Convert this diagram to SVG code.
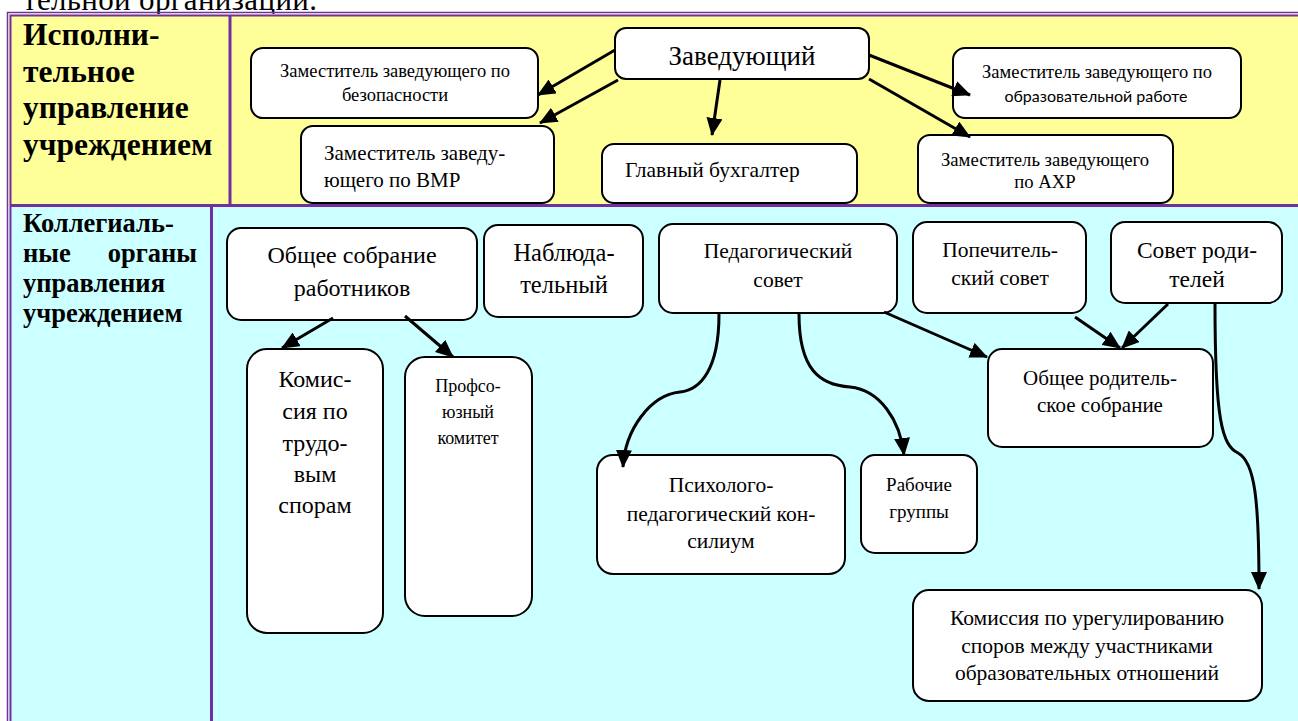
<svg xmlns="http://www.w3.org/2000/svg" width="1298" height="721" viewBox="0 0 1298 721">
<style>
.t{font-family:"Liberation Serif","Times New Roman",serif;fill:#000}
.s{font-family:Lato,"Liberation Sans",sans-serif;fill:#000}
.h{font-family:"Liberation Serif","Times New Roman",serif;font-weight:bold;fill:#000}
.c{text-anchor:middle}
.box{fill:#fff;stroke:#000;stroke-width:2}
.fr{stroke:#7030A0;fill:none}
.ln{fill:none;stroke:#000;stroke-width:3;marker-end:url(#ah)}
</style>
<defs>
<marker id="ah" viewBox="0 0 18 16" refX="17" refY="8" markerWidth="18" markerHeight="16" markerUnits="userSpaceOnUse" orient="auto"><path d="M0,0 L18,8 L0,16 z" fill="#000"/></marker>
</defs>
<rect width="1298" height="721" fill="#fff"/>
<text class="t" x="23" y="10" font-size="31" textLength="294">тельной организации.</text>
<g id="frame">
<rect x="9" y="14" width="1289" height="192" fill="#FFFF99"/>
<rect x="9" y="206" width="1289" height="515" fill="#CCFFFF"/>
<path class="fr" stroke-width="1.5" d="M1298,12.5 H7.5 V721"/>
<path class="fr" stroke-width="2" d="M1298,15.5 H10.5 V721"/>
<path class="fr" stroke-width="3" d="M230,15 V205"/>
<path class="fr" stroke-width="3" d="M10,205.5 H1298"/>
<path class="fr" stroke-width="3" d="M211.5,207 V721"/>
</g>
<g id="header1">
<text class="h" font-size="31.5" x="23" y="45">Исполни-</text>
<text class="h" font-size="31.5" x="23" y="82">тельное</text>
<text class="h" font-size="31.5" x="23" y="118">управление</text>
<text class="h" font-size="31.5" x="23" y="155">учреждением</text>
</g>
<g id="header2">
<text class="h" font-size="26.5" x="23" y="232">Коллегиаль-</text>
<text class="h" font-size="26.5" x="23" y="262">ные</text>
<text class="h" font-size="26.5" x="197" y="262" text-anchor="end">органы</text>
<text class="h" font-size="26.5" x="23" y="292">управления</text>
<text class="h" font-size="26.5" x="23" y="322">учреждением</text>
</g>
<g id="n-zav">
<rect class="box" x="615" y="28" width="254" height="51" rx="11"/>
<text class="t c" font-size="27" x="742" y="65">Заведующий</text>
</g>
<g id="n-bez">
<rect class="box" x="251" y="48" width="287" height="70" rx="12"/>
<text class="t c" font-size="18.5" x="395" y="77">Заместитель заведующего по</text>
<text class="t c" font-size="18.5" x="395" y="101">безопасности</text>
</g>
<g id="n-vmr">
<rect class="box" x="301" y="126" width="253" height="77" rx="12"/>
<text class="t" font-size="21" x="324" y="160">Заместитель заведу-</text>
<text class="t" font-size="21" x="324" y="187">ющего по ВМР</text>
</g>
<g id="n-buh">
<rect class="box" x="602" y="144" width="255" height="59" rx="12"/>
<text class="t" font-size="21.5" x="625" y="177">Главный бухгалтер</text>
</g>
<g id="n-obr">
<rect class="box" x="953" y="48" width="288" height="70" rx="12"/>
<text class="t c" font-size="18.5" x="1097" y="78">Заместитель заведующего по</text>
<text class="s c" font-size="16" x="1096" y="102">образовательной работе</text>
</g>
<g id="n-ahr">
<rect class="box" x="918" y="135" width="255" height="68" rx="12"/>
<text class="t c" font-size="18.7" x="1045" y="166">Заместитель заведующего</text>
<text class="t c" font-size="18.7" x="1045" y="188">по АХР</text>
</g>
<g id="n-sobr">
<rect class="box" x="227" y="228" width="250" height="92" rx="14"/>
<text class="t c" font-size="24" x="352" y="263">Общее собрание</text>
<text class="t c" font-size="24" x="352" y="296">работников</text>
</g>
<g id="n-nabl">
<rect class="box" x="484" y="225" width="159" height="92" rx="14"/>
<text class="t c" font-size="24.5" x="564" y="261">Наблюда-</text>
<text class="t c" font-size="24.5" x="564" y="293">тельный</text>
</g>
<g id="n-ped">
<rect class="box" x="659" y="224" width="238" height="89" rx="14"/>
<text class="t c" font-size="21.5" x="778" y="258">Педагогический</text>
<text class="t c" font-size="21.5" x="778" y="287">совет</text>
</g>
<g id="n-pop">
<rect class="box" x="913" y="222" width="173" height="91" rx="14"/>
<text class="t c" font-size="21.5" x="1000" y="257">Попечитель-</text>
<text class="t c" font-size="21.5" x="1000" y="285">ский совет</text>
</g>
<g id="n-sovrod">
<rect class="box" x="1111" y="222" width="171" height="81" rx="14"/>
<text class="t c" font-size="23.5" x="1197" y="258">Совет роди-</text>
<text class="t c" font-size="23.5" x="1197" y="287">телей</text>
</g>
<g id="n-obrod">
<rect class="box" x="988" y="349" width="225" height="98" rx="14"/>
<text class="t c" font-size="21" x="1100" y="385">Общее родитель-</text>
<text class="t c" font-size="21" x="1100" y="412">ское собрание</text>
</g>
<g id="n-ktrud">
<rect class="box" x="247" y="349" width="136" height="284" rx="20"/>
<text class="t c" font-size="24" x="315" y="387">Комис-</text>
<text class="t c" font-size="24" x="315" y="419">сия по</text>
<text class="t c" font-size="24" x="315" y="451">трудо-</text>
<text class="t c" font-size="24" x="315" y="482">вым</text>
<text class="t c" font-size="24" x="315" y="513">спорам</text>
</g>
<g id="n-prof">
<rect class="box" x="405" y="357" width="127" height="259" rx="20"/>
<text class="t c" font-size="18" x="468" y="392">Профсо-</text>
<text class="t c" font-size="18" x="468" y="418">юзный</text>
<text class="t c" font-size="18" x="468" y="444">комитет</text>
</g>
<g id="n-psih">
<rect class="box" x="597" y="455" width="248" height="119" rx="16"/>
<text class="t c" font-size="21.5" x="721" y="492">Психолого-</text>
<text class="t c" font-size="21.5" x="721" y="521">педагогический кон-</text>
<text class="t c" font-size="21.5" x="721" y="548">силиум</text>
</g>
<g id="n-rab">
<rect class="box" x="861" y="455" width="116" height="98" rx="14"/>
<text class="t c" font-size="19" x="919" y="491">Рабочие</text>
<text class="t c" font-size="19" x="919" y="518">группы</text>
</g>
<g id="n-kureg">
<rect class="box" x="913" y="590" width="349" height="111" rx="16"/>
<text class="t c" font-size="21.5" x="1087" y="625">Комиссия по урегулированию</text>
<text class="t c" font-size="21.5" x="1087" y="653">споров между участниками</text>
<text class="t c" font-size="21.5" x="1087" y="680">образовательных отношений</text>
</g>
<g id="connectors">
<path class="ln" d="M615,50 L538,95"/>
<path class="ln" d="M618,80 L540,123"/>
<path class="ln" d="M720,80 L712,135"/>
<path class="ln" d="M869,55 L970,95"/>
<path class="ln" d="M869,79 L970,137"/>
<path class="ln" d="M333,318 L282,348"/>
<path class="ln" d="M405,316 L453,357"/>
<path class="ln" d="M884,312 L987,357"/>
<path class="ln" d="M1075,317 L1120,348"/>
<path class="ln" d="M1168,304 L1122,348"/>
<path class="ln" d="M719,314 C719,370 700,390 680,392 C650,395 625,430 623,467"/>
<path class="ln" d="M799,314 C799,370 820,385 850,387 C880,390 900,420 904,455"/>
<path class="ln" d="M1215,304 C1215,420 1222,445 1238,453 C1255,462 1259,500 1259,589"/>
</g>
</svg>
